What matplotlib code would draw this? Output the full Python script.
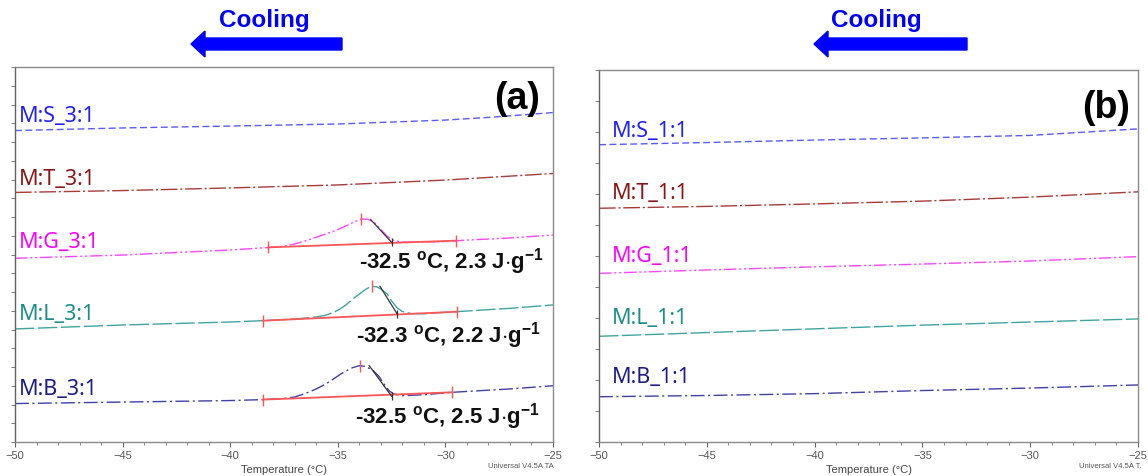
import numpy as np
import matplotlib
matplotlib.use('Agg')
import matplotlib.pyplot as plt
from matplotlib.patches import FancyArrow
from matplotlib.ticker import MultipleLocator

plt.rcParams['mathtext.fontset'] = 'custom'
plt.rcParams['mathtext.rm'] = 'Liberation Sans'
plt.rcParams['mathtext.bf'] = 'Liberation Sans:bold'

# ---- panel (a): 3:1 blends, values in tick units ----
s31_t = [-50, -45, -40, -35, -30, -28, -25]
s31_y = [16.61, 16.75, 16.85, 16.96, 17.17, 17.31, 17.57]

t31_t = [-50, -45, -40, -35, -30, -25]
t31_y = [13.31, 13.41, 13.55, 13.71, 13.97, 14.32]

g31_t = [-50, -45, -40, -38, -37.5, -37, -36.5, -36, -35.5, -35, -34.5, -34.2, -33.9,
         -33.6, -33.3, -33.0, -32.7, -32.4, -32.0, -31, -30, -29, -27, -25]
g31_y = [9.80, 9.97, 10.24, 10.39, 10.44, 10.56, 10.73, 10.92, 11.12, 11.33, 11.59, 11.76, 11.89,
         11.88, 11.71, 11.33, 10.96, 10.75, 10.66, 10.67, 10.69, 10.77, 10.88, 11.04]

l31_t = [-50, -45, -40, -38.5, -37, -36.5, -36, -35.6, -35.2, -34.9, -34.6, -34.3, -34.0, -33.8,
         -33.6, -33.4, -33.2, -33.0, -32.7, -32.5, -32.24, -32.0, -31.6, -31.0, -30.5, -29.5, -27, -25]
l31_y = [6.03, 6.24, 6.40, 6.47, 6.56, 6.61, 6.67, 6.75, 6.91, 7.09, 7.33, 7.63, 7.89, 8.07,
         8.21, 8.30, 8.28, 8.16, 7.89, 7.52, 7.15, 6.96, 6.85, 6.84, 6.88, 6.95, 7.13, 7.31]

b31_t = [-50, -45, -40, -38.5, -37.5, -37, -36.5, -36.0, -35.6, -35.2, -34.9, -34.6, -34.3, -34.0,
         -33.7, -33.35, -33.1, -32.8, -32.6, -32.4, -32.0, -31, -29.7, -27, -25]
b31_y = [2.05, 2.13, 2.21, 2.26, 2.32, 2.40, 2.59, 2.83, 3.07, 3.36, 3.60, 3.80, 3.97, 4.07,
         4.03, 3.80, 3.52, 3.00, 2.72, 2.56, 2.47, 2.52, 2.65, 2.83, 3.00]

# integration baselines, peak markers and onset tangents (G, L, B)
base_t = [[-38.23, -29.5], [-38.46, -29.45], [-38.49, -29.71]]
base_y = [[10.38, 10.74], [6.47, 6.95], [2.26, 2.65]]
peak_t = [-33.9, -33.4, -33.97]
peak_y = [11.89, 8.30, 4.07]
tan_t = [[-33.47, -32.5], [-33.04, -32.24], [-33.54, -32.5]]
tan_y = [[11.86, 10.65], [8.30, 6.83], [4.07, 2.44]]
onset_c = ['-32.5', '-32.3', '-32.5']
enthalpy = ['2.3', '2.2', '2.5']

# ---- panel (b): 1:1 blends ----
b_temp = [-50, -45, -40, -35, -30, -25]
s11_y = [9.59, 9.66, 9.74, 9.81, 9.89, 10.10]
t11_y = [7.54, 7.60, 7.68, 7.77, 7.90, 8.07]
g11_y = [5.44, 5.55, 5.65, 5.74, 5.84, 5.98]
l11_y = [3.41, 3.53, 3.65, 3.77, 3.87, 3.97]
bb11_y = [1.46, 1.50, 1.56, 1.66, 1.74, 1.84]

names_a = ['M:S_3:1', 'M:T_3:1', 'M:G_3:1', 'M:L_3:1', 'M:B_3:1']
names_b = ['M:S_1:1', 'M:T_1:1', 'M:G_1:1', 'M:L_1:1', 'M:B_1:1']

text_cols = ['#1f1fff', '#8b1414', '#ff00ff', '#1a8f8a', '#1c1c85']
line_cols = ['#5a5aff', '#a83a3a', '#ff45ff', '#3fa5a0', '#4040a8']
dash_pats = [(5, 2.5), (12, 2, 1.5, 2), (9, 2, 1.5, 2, 1.5, 2), (14, 2.5), (10, 2.5, 1.5, 2.5)]

lab_y_a = [17.14, 13.76, 10.42, 6.56, 2.56]
lab_y_b = [9.88, 7.86, 5.84, 3.84, 1.93]

W, H = 1148, 477
fig = plt.figure(figsize=(W / 100, H / 100), dpi=100)
ax1 = fig.add_axes([15 / W, 1 - 443 / H, 538 / W, 375 / H])
ax2 = fig.add_axes([599 / W, 1 - 443 / H, 539 / W, 372 / H])

label_font = 'Noto Sans'
bold_font = ['Liberation Sans', 'DejaVu Sans']


def style_axes(ax, ytop):
    ax.set_xlim(-50, -25)
    ax.set_ylim(0, ytop)
    ax.xaxis.set_major_locator(MultipleLocator(5))
    ax.xaxis.set_minor_locator(MultipleLocator(1))
    ax.yaxis.set_major_locator(MultipleLocator(1))
    ax.tick_params(axis='x', which='major', direction='out', length=3.5, width=0.8,
                   color='#666666', labelsize=8, labelcolor='#555555', pad=2.5)
    ax.tick_params(axis='x', which='minor', direction='out', length=2.5, width=0.6, color='#777777')
    ax.tick_params(axis='y', which='major', direction='out', length=3, width=0.6,
                   color='#666666', labelleft=False)
    for lab in ax.get_xticklabels():
        lab.set_family('Liberation Sans')
    for sp in ax.spines.values():
        sp.set_color('#8a8a8a')
        sp.set_linewidth(1.0)
    ax.spines['left'].set_color('#606060')
    ax.set_xlabel('Temperature (\u00b0C)', fontsize=8, color='#444444',
                  family='Liberation Sans', labelpad=3)


style_axes(ax1, 20)
style_axes(ax2, 12)

curves_a = [(s31_t, s31_y), (t31_t, t31_y), (g31_t, g31_y), (l31_t, l31_y), (b31_t, b31_y)]
for i, (tt, yy) in enumerate(curves_a):
    ax1.plot(tt, yy, color=line_cols[i], lw=1.0, dashes=dash_pats[i])
    ax1.text(-49.8, lab_y_a[i], names_a[i], color=text_cols[i], fontsize=15.5,
             family=label_font, va='baseline', ha='left')

for k in range(3):
    ax1.plot(base_t[k], base_y[k], color='#ff5555', lw=1.3, marker='|', ms=9, mew=1.0)
    ax1.plot(peak_t[k], peak_y[k], color='#ff5555', marker='|', ms=9, mew=1.0)
    ax1.plot(tan_t[k], tan_y[k], color='#333333', lw=0.9)
    ax1.plot(tan_t[k][1], tan_y[k][1], color='#333333', marker='|', ms=6, mew=0.9)

note_x = [-34.01, -34.15, -34.2]
note_y = [9.29, 5.36, 1.05]
for k in range(3):
    note = onset_c[k] + r' $^{\mathbf{o}}$C, ' + enthalpy[k] + r' J$\mathbf{\cdot}$g$^{\mathbf{-1}}$'
    ax1.text(note_x[k], note_y[k], note, fontsize=16, fontweight='bold',
             family=bold_font, va='baseline', ha='left', color='#111111')

curves_b = [s11_y, t11_y, g11_y, l11_y, bb11_y]
for i, yy in enumerate(curves_b):
    ax2.plot(b_temp, yy, color=line_cols[i], lw=1.0, dashes=dash_pats[i])
    ax2.text(-49.4, lab_y_b[i], names_b[i], color=text_cols[i], fontsize=15.5,
             family=label_font, va='baseline', ha='left')

ax1.text(0.975, 0.965, '(a)', transform=ax1.transAxes, fontsize=27, fontweight='bold',
         family=bold_font, ha='right', va='top')
ax2.text(0.985, 0.95, '(b)', transform=ax2.transAxes, fontsize=27, fontweight='bold',
         family=bold_font, ha='right', va='top')

# cooling arrows
for tip, tail, cx in [(191, 342, 264), (814, 967, 876)]:
    yc = 1 - 45 / H
    fig.patches.append(FancyArrow(tail / W, yc, (tip - tail) / W, 0, width=12 / H,
                                  head_width=26 / H, head_length=14 / W,
                                  length_includes_head=True, color='#0000ff',
                                  transform=fig.transFigure, figure=fig))
    fig.text(cx / W, 1 - 21 / H, 'Cooling', fontsize=17.5, fontweight='bold',
             family=bold_font, color='#0000ff', ha='center', va='center')

fig.text(521 / W, 1 - 467 / H, 'Universal V4.5A TA', fontsize=5.5, color='#555555',
         family='Liberation Sans', ha='center', va='center')
fig.text(1110 / W, 1 - 467 / H, 'Universal V4.5A T.', fontsize=5.5, color='#555555',
         family='Liberation Sans', ha='center', va='center')

fig.savefig('out.png', dpi=100)
